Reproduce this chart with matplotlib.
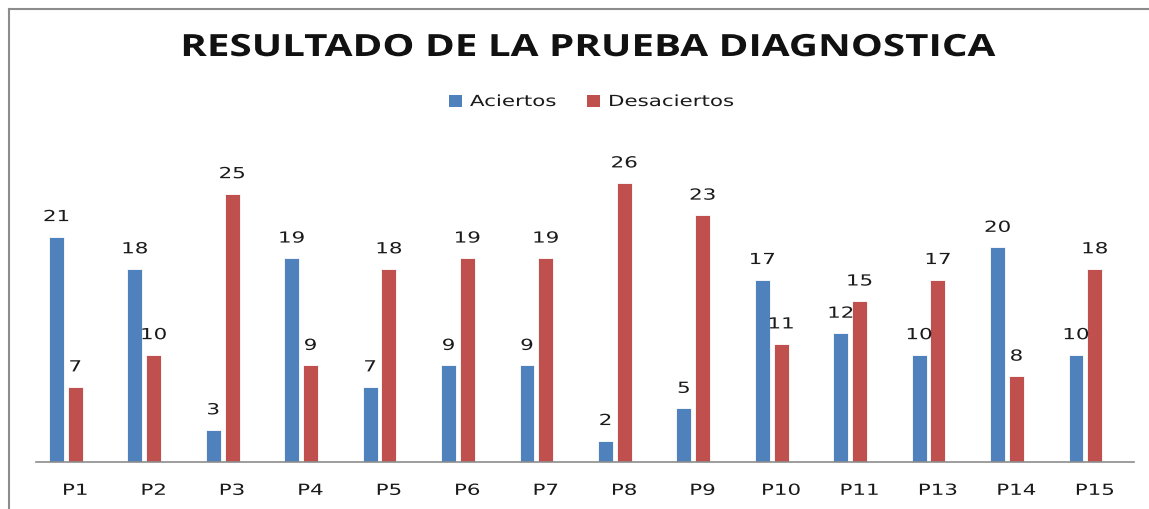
import matplotlib
matplotlib.use("Agg")
import matplotlib.pyplot as plt
import numpy as np
from matplotlib.lines import Line2D
from matplotlib.patches import Patch
from matplotlib.patheffects import AbstractPathEffect
from matplotlib.transforms import Affine2D

categories = ["P1", "P2", "P3", "P4", "P5", "P6", "P7", "P8", "P9", "P10", "P11", "P13", "P14", "P15"]
aciertos = [21, 18, 3, 19, 7, 9, 9, 2, 5, 17, 12, 10, 20, 10]
desaciertos = [7, 10, 25, 9, 18, 19, 19, 26, 23, 11, 15, 17, 8, 18]

BLUE = "#4F81BD"
RED = "#C0504D"
TXT = "#1a1a1a"


class Stretch(AbstractPathEffect):
    """Horizontally stretch text glyphs (the original chart uses wide text)."""

    def __init__(self, sx, anchor="center"):
        super().__init__()
        self.sx = sx
        self.anchor = anchor

    def draw_path(self, renderer, gc, tpath, affine, rgbFace=None):
        ext = tpath.get_extents()
        cx = (ext.x0 + ext.x1) / 2 if self.anchor == "center" else 0.0
        t = Affine2D().translate(-cx, 0).scale(self.sx, 1).translate(cx, 0)
        renderer.draw_path(gc, tpath, t + affine, rgbFace)


W, H = 1149, 510
fig = plt.figure(figsize=(W / 100, H / 100), dpi=100)
ax = fig.add_axes([36 / W, 1 - 463 / H, (1134 - 36) / W, (463 - 141) / H])

x = np.arange(len(categories))
bw = 0.19
off = -0.12
b1 = ax.bar(x + off - bw / 2 - 0.025, aciertos, width=bw, color=BLUE, edgecolor="white", linewidth=0.6)
b2 = ax.bar(x + off + bw / 2 + 0.025, desaciertos, width=bw, color=RED, edgecolor="white", linewidth=0.6)

SX = 1.4
for bars in (b1, b2):
    labs = ax.bar_label(bars, padding=9, fontsize=11, color=TXT, family="DejaVu Sans")
    for t in labs:
        t.set_path_effects([Stretch(SX)])

ax.set_xlim(-0.5, len(categories) - 0.5)
ax.set_ylim(0, 30)
ax.set_xticks(x)
ax.set_xticklabels(categories, fontsize=11, color=TXT, family="DejaVu Sans")
ax.tick_params(axis="x", length=0, pad=15)
for tk in ax.xaxis.get_major_ticks():
    tk.label1.set_path_effects([Stretch(SX)])
ax.set_yticks([])
for s in ["top", "right", "left"]:
    ax.spines[s].set_visible(False)
ax.spines["bottom"].set_color("#8c8c8c")
ax.spines["bottom"].set_linewidth(1.2)

title = fig.text(0.5 * (178 + 997) / W, 1 - 49 / H, "RESULTADO DE LA PRUEBA DIAGNOSTICA",
                 ha="center", va="center", fontsize=22, fontweight="bold", family="Open Sans",
                 color="#111111")
title.set_path_effects([Stretch(1.32)])

handles = [Patch(facecolor=BLUE, edgecolor="none"), Patch(facecolor=RED, edgecolor="none")]
leg = fig.legend(handles, ["Aciertos", "Desaciertos"], loc="center left",
                 bbox_to_anchor=(449 / W, 1 - 102.5 / H),
                 ncol=2, frameon=False, prop={"family": "DejaVu Sans", "size": 11},
                 borderpad=0, borderaxespad=0, handlelength=0.85, handleheight=0.85,
                 handletextpad=0.52, columnspacing=3.6)
for t in leg.get_texts():
    t.set_color(TXT)
    t.set_path_effects([Stretch(SX, anchor="left")])

# outer frame (left and top only visible)
fig.add_artist(Line2D([9 / W, 9 / W], [0, 1 - 10 / H], transform=fig.transFigure, color="#8c8c8c", linewidth=1.5))
fig.add_artist(Line2D([9 / W, 1], [1 - 10 / H, 1 - 10 / H], transform=fig.transFigure, color="#8c8c8c", linewidth=1.5))

fig.savefig("out.png", dpi=100)
